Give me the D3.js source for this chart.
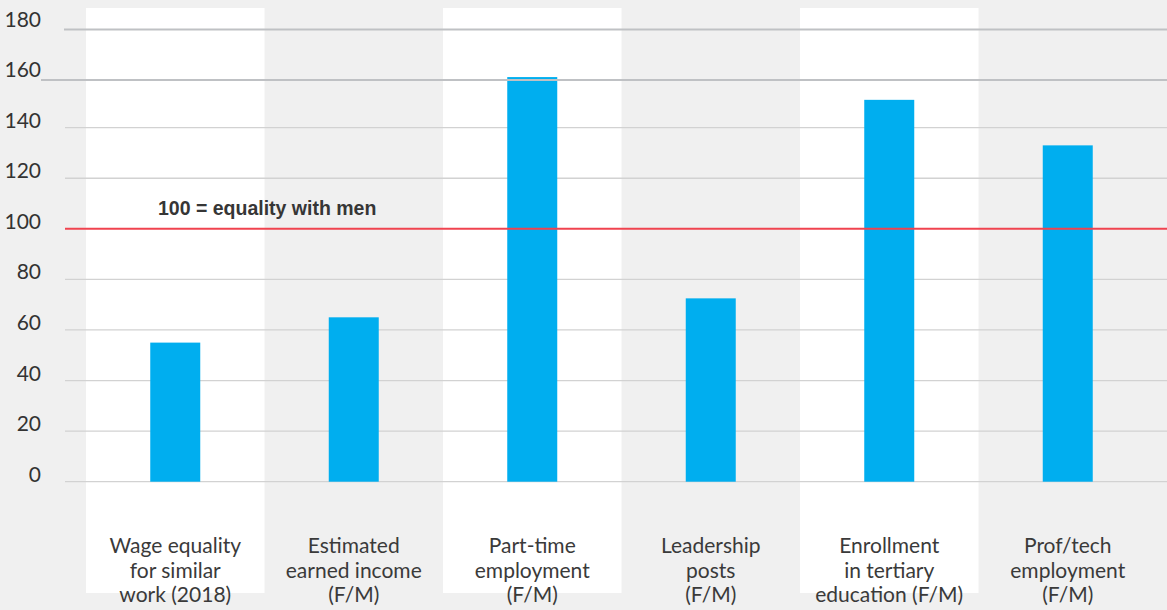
<!DOCTYPE html>
<html>
<head>
<meta charset="utf-8">
<script src="https://cdn.jsdelivr.net/npm/d3@7"></script>
<style>
  html, body { margin: 0; padding: 0; background: #f0f0f0; }
  svg { display: block; }
</style>
</head>
<body>
<svg id="chart" width="1167" height="610"></svg>
<script>
// Chart data
const categories = ['wage', 'income', 'parttime', 'leadership', 'tertiary', 'proftech'];
const labels = [
    ['Wage equality', 'for similar', 'work (2018)'],
    ['Estimated', 'earned income', '(F/M)'],
    ['Part-time', 'employment', '(F/M)'],
    ['Leadership', 'posts', '(F/M)'],
    ['Enrollment', 'in tertiary', 'education (F/M)'],
    ['Prof/tech', 'employment', '(F/M)']
];
const values = [55, 65, 160, 72.5, 151, 133];
const yTicks = [0, 20, 40, 60, 80, 100, 120, 140, 160, 180];
const refValue = 100;
const refLabel = '100 = equality with men';

const width = 1167, height = 610;
const svg = d3.select('#chart');

const x = d3.scaleBand()
    .domain(categories)
    .range([86, 1157])
    .paddingInner(0)
    .paddingOuter(0);

const y = d3.scaleLinear()
    .domain([0, 180])
    .range([481.7, 26.5]);

const barWidth = 50;
const font = 'Lato, "Open Sans", sans-serif';

svg.append('rect')
    .attr('width', width)
    .attr('height', height)
    .attr('fill', '#f0f0f0');

// alternating white column bands
svg.append('g')
    .selectAll('rect')
    .data(categories.filter((d, i) => i % 2 === 0))
    .enter().append('rect')
    .attr('x', d => x(d))
    .attr('y', 8)
    .attr('width', x.bandwidth())
    .attr('height', 585)
    .attr('fill', '#ffffff');

// light gridlines behind bars
svg.append('g')
    .selectAll('line')
    .data(yTicks.filter(t => t <= 140 && t !== refValue))
    .enter().append('line')
    .attr('x1', 65)
    .attr('x2', width)
    .attr('y1', d => y(d))
    .attr('y2', d => y(d))
    .attr('stroke', '#d2d2d2')
    .attr('stroke-width', 1.3);

// bars
svg.append('g')
    .selectAll('rect')
    .data(values)
    .enter().append('rect')
    .attr('x', (d, i) => x(categories[i]) + x.bandwidth() / 2 - barWidth / 2)
    .attr('y', d => y(d))
    .attr('width', barWidth)
    .attr('height', d => y(0) - y(d))
    .attr('fill', '#00aeef');

// the two top gridlines sit over the bars
svg.append('g')
    .selectAll('line')
    .data([160, 180])
    .enter().append('line')
    .attr('x1', d => d === 160 ? 41 : 64)
    .attr('x2', width)
    .attr('y1', d => y(d) + 3)
    .attr('y2', d => y(d) + 3)
    .attr('stroke', '#bfc1c4')
    .attr('stroke-width', 2);

// reference line
svg.append('line')
    .attr('x1', 65)
    .attr('x2', width)
    .attr('y1', y(refValue))
    .attr('y2', y(refValue))
    .attr('stroke', '#f0434f')
    .attr('stroke-width', 2);

svg.append('text')
    .attr('x', 158)
    .attr('y', y(refValue) - 14)
    .attr('font-family', '"Liberation Sans", Arial, sans-serif')
    .attr('font-weight', 'bold')
    .attr('font-size', '19.5px')
    .attr('fill', '#363636')
    .text(refLabel);

// y tick labels
svg.append('g')
    .selectAll('text')
    .data(yTicks)
    .enter().append('text')
    .attr('x', 41)
    .attr('y', d => y(d))
    .attr('text-anchor', 'end')
    .attr('font-family', font)
    .attr('font-size', '21px')
    .attr('fill', '#333333')
    .text(d => d);

// category labels
const catLabels = svg.append('g')
    .selectAll('text')
    .data(categories)
    .enter().append('text')
    .attr('text-anchor', 'middle')
    .attr('font-family', font)
    .attr('font-size', '21px')
    .attr('fill', '#3a3a3a');

catLabels.each(function(d, i) {
    const t = d3.select(this);
    labels[i].forEach((line, j) => {
        t.append('tspan')
            .attr('x', x(d) + x.bandwidth() / 2)
            .attr('y', 553 + j * 24.7)
            .text(line);
    });
});
</script>
</body>
</html>
